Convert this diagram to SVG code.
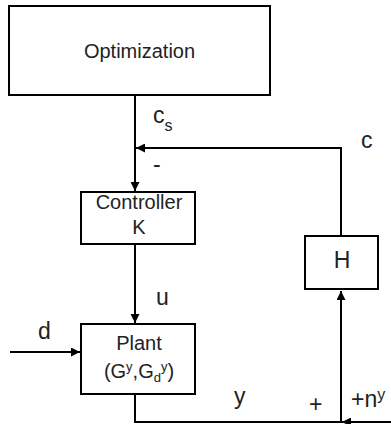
<svg xmlns="http://www.w3.org/2000/svg" width="391" height="424" viewBox="0 0 391 424">
<style>
.box{fill:#fff;stroke:#000;stroke-width:2}
.t{font-family:"Liberation Sans",Arial,sans-serif;font-size:20px;fill:#222;text-anchor:middle}
.l{font-family:"Liberation Sans",Arial,sans-serif;font-size:23px;fill:#222}
.w{fill:none;stroke:#000;stroke-width:2}
</style>
<defs>
<marker id="ah" viewBox="0 0 10 10" refX="10" refY="5" markerWidth="4.5" markerHeight="4.5" orient="auto" markerUnits="strokeWidth">
<path d="M0,0 L10,5 L0,10 z" fill="#000"/>
</marker>
</defs>
<rect width="391" height="424" fill="#fff"/>
<g id="connectors">
<path class="w" d="M135,95 V191" marker-end="url(#ah)"/>
<path class="w" d="M341,236 V148 H136" marker-end="url(#ah)"/>
<path class="w" d="M135,244 V323" marker-end="url(#ah)"/>
<path class="w" d="M10,352 H80" marker-end="url(#ah)"/>
<path class="w" d="M135,394 V422 H341 V291" marker-end="url(#ah)"/>
<path class="w" d="M391,422 H342" marker-end="url(#ah)"/>
<text class="l" x="153" y="123">c<tspan font-size="16" dy="8">s</tspan></text>
<text class="l" x="361" y="148">c</text>
<text class="l" x="153" y="172">-</text>
<text class="l" x="156" y="305">u</text>
<text class="l" x="38" y="339">d</text>
<text class="l" x="234" y="404">y</text>
<text class="l" x="309" y="412">+</text>
<text class="l" x="351" y="407">+n<tspan font-size="16" dy="-7">y</tspan></text>
</g>
<g id="optimization">
<rect class="box" x="9" y="6" width="261" height="89"/>
<text class="t" x="139.5" y="58">Optimization</text>
</g>
<g id="controller">
<rect class="box" x="81" y="192" width="114" height="52"/>
<text class="t" x="139" y="209">Controller</text>
<text class="t" x="139" y="234">K</text>
</g>
<g id="plant">
<rect class="box" x="81" y="324" width="114" height="70"/>
<text class="t" x="139" y="350">Plant</text>
<text class="t" x="139" y="378">(G<tspan font-size="13" dy="-7">y</tspan><tspan dy="7">,G</tspan><tspan font-size="13" dy="4">d</tspan><tspan font-size="13" dy="-11">y</tspan><tspan dy="7">)</tspan></text>
</g>
<g id="H">
<rect class="box" x="305" y="236" width="73" height="53"/>
<text class="t" x="342" y="268" style="font-size:23px">H</text>
</g>
</svg>
